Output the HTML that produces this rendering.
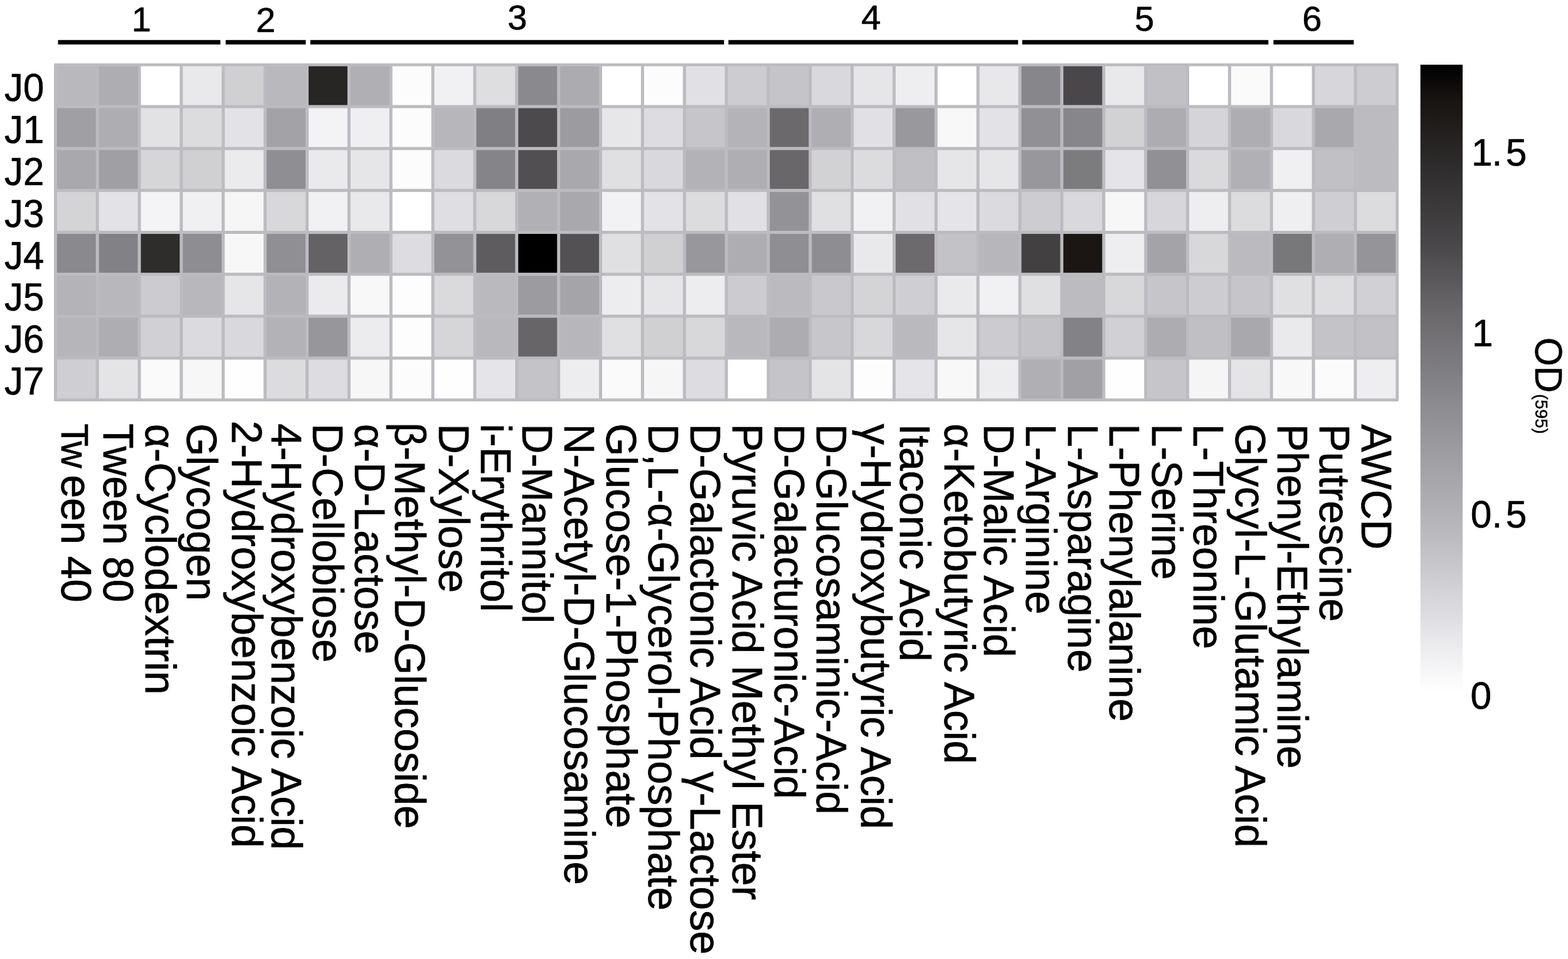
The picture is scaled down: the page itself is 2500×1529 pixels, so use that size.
<!DOCTYPE html>
<html lang="en">
<head>
<meta charset="utf-8">
<title>Heatmap OD(595)</title>
<style>
html,body{margin:0;padding:0;background:#fff;}
body{width:2500px;height:1529px;overflow:hidden;}
svg{display:block;}
text{font-family:'Liberation Sans', sans-serif;}
</style>
</head>
<body>
<svg width="2500" height="1529" viewBox="0 0 2500 1529" font-family="'Liberation Sans', sans-serif" font-size="62" fill="#000">
<defs><linearGradient id="cb" x1="0" y1="0" x2="0" y2="1"><stop offset="0.0000" stop-color="#000000"/><stop offset="0.0569" stop-color="#181412"/><stop offset="0.1628" stop-color="#2e2c2c"/><stop offset="0.2857" stop-color="#494749"/><stop offset="0.3916" stop-color="#69676a"/><stop offset="0.5145" stop-color="#858488"/><stop offset="0.5365" stop-color="#8b8a8e"/><stop offset="0.6763" stop-color="#aaa9ae"/><stop offset="0.7502" stop-color="#bbbabe"/><stop offset="0.8232" stop-color="#cfced2"/><stop offset="0.8971" stop-color="#e3e2e6"/><stop offset="0.9461" stop-color="#f1f1f3"/><stop offset="0.9830" stop-color="#fbfbfc"/><stop offset="1.0000" stop-color="#ffffff"/></linearGradient></defs>
<rect x="0" y="0" width="2500" height="1529" fill="#fff"/>
<g id="groups">
<rect x="92.50" y="63.8" width="258.90" height="7.10" fill="#000"/>
<rect x="359.80" y="63.8" width="127.70" height="7.10" fill="#000"/>
<rect x="494.80" y="63.8" width="659.60" height="7.10" fill="#000"/>
<rect x="1161.40" y="63.8" width="461.80" height="7.10" fill="#000"/>
<rect x="1629.80" y="63.8" width="392.50" height="7.10" fill="#000"/>
<rect x="2030.40" y="63.8" width="128.00" height="7.10" fill="#000"/>
<text transform="translate(209.72,50.00) scale(1.0000,1)" font-size="56.20" stroke="#000" stroke-width="0.56" stroke-linejoin="round">1</text>
<text transform="translate(408.01,51.40) scale(1.0000,1)" font-size="56.20" stroke="#000" stroke-width="0.56" stroke-linejoin="round">2</text>
<text transform="translate(809.25,47.34) scale(1.0000,1)" font-size="56.20" stroke="#000" stroke-width="0.56" stroke-linejoin="round">3</text>
<text transform="translate(1373.30,46.80) scale(1.0000,1)" font-size="56.20" stroke="#000" stroke-width="0.56" stroke-linejoin="round">4</text>
<text transform="translate(1808.96,49.04) scale(1.0000,1)" font-size="56.20" stroke="#000" stroke-width="0.56" stroke-linejoin="round">5</text>
<text transform="translate(2076.18,48.54) scale(1.0000,1)" font-size="56.20" stroke="#000" stroke-width="0.56" stroke-linejoin="round">6</text>
</g>
<g id="heatmap">
<rect x="86.0" y="101.0" width="2144.00" height="539.00" rx="2" fill="#bcbbc0"/>
<rect x="90.90" y="105.60" width="61.9" height="61.9" fill="#b9b8bc"/>
<rect x="157.75" y="105.60" width="61.9" height="61.9" fill="#aeadb1"/>
<rect x="224.61" y="105.60" width="61.9" height="61.9" fill="#ffffff"/>
<rect x="291.47" y="105.60" width="61.9" height="61.9" fill="#e9e8eb"/>
<rect x="358.32" y="105.60" width="61.9" height="61.9" fill="#d0cfd2"/>
<rect x="425.18" y="105.60" width="61.9" height="61.9" fill="#b9b8bc"/>
<rect x="492.03" y="105.60" width="61.9" height="61.9" fill="#272624"/>
<rect x="558.88" y="105.60" width="61.9" height="61.9" fill="#b0afb3"/>
<rect x="625.74" y="105.60" width="61.9" height="61.9" fill="#fcfcfc"/>
<rect x="692.60" y="105.60" width="61.9" height="61.9" fill="#f1f1f3"/>
<rect x="759.45" y="105.60" width="61.9" height="61.9" fill="#dedde0"/>
<rect x="826.31" y="105.60" width="61.9" height="61.9" fill="#8a898d"/>
<rect x="893.16" y="105.60" width="61.9" height="61.9" fill="#acabaf"/>
<rect x="960.01" y="105.60" width="61.9" height="61.9" fill="#ffffff"/>
<rect x="1026.87" y="105.60" width="61.9" height="61.9" fill="#fcfcfc"/>
<rect x="1093.73" y="105.60" width="61.9" height="61.9" fill="#e1e0e4"/>
<rect x="1160.58" y="105.60" width="61.9" height="61.9" fill="#cdccd0"/>
<rect x="1227.44" y="105.60" width="61.9" height="61.9" fill="#c5c4c8"/>
<rect x="1294.29" y="105.60" width="61.9" height="61.9" fill="#d9d8dc"/>
<rect x="1361.15" y="105.60" width="61.9" height="61.9" fill="#e6e5e8"/>
<rect x="1428.00" y="105.60" width="61.9" height="61.9" fill="#eeeef0"/>
<rect x="1494.86" y="105.60" width="61.9" height="61.9" fill="#ffffff"/>
<rect x="1561.71" y="105.60" width="61.9" height="61.9" fill="#e8e7ea"/>
<rect x="1628.57" y="105.60" width="61.9" height="61.9" fill="#87868a"/>
<rect x="1695.42" y="105.60" width="61.9" height="61.9" fill="#494749"/>
<rect x="1762.28" y="105.60" width="61.9" height="61.9" fill="#e9e8eb"/>
<rect x="1829.13" y="105.60" width="61.9" height="61.9" fill="#c1c0c4"/>
<rect x="1895.99" y="105.60" width="61.9" height="61.9" fill="#ffffff"/>
<rect x="1962.84" y="105.60" width="61.9" height="61.9" fill="#fafafb"/>
<rect x="2029.70" y="105.60" width="61.9" height="61.9" fill="#ffffff"/>
<rect x="2096.55" y="105.60" width="61.9" height="61.9" fill="#d7d6da"/>
<rect x="2163.41" y="105.60" width="61.9" height="61.9" fill="#cdccd0"/>
<rect x="90.90" y="172.43" width="61.9" height="61.9" fill="#a09fa3"/>
<rect x="157.75" y="172.43" width="61.9" height="61.9" fill="#aeadb1"/>
<rect x="224.61" y="172.43" width="61.9" height="61.9" fill="#e2e1e4"/>
<rect x="291.47" y="172.43" width="61.9" height="61.9" fill="#dcdbde"/>
<rect x="358.32" y="172.43" width="61.9" height="61.9" fill="#e3e2e6"/>
<rect x="425.18" y="172.43" width="61.9" height="61.9" fill="#a3a2a6"/>
<rect x="492.03" y="172.43" width="61.9" height="61.9" fill="#f3f3f5"/>
<rect x="558.88" y="172.43" width="61.9" height="61.9" fill="#efeff1"/>
<rect x="625.74" y="172.43" width="61.9" height="61.9" fill="#fcfcfc"/>
<rect x="692.60" y="172.43" width="61.9" height="61.9" fill="#b7b6ba"/>
<rect x="759.45" y="172.43" width="61.9" height="61.9" fill="#807f83"/>
<rect x="826.31" y="172.43" width="61.9" height="61.9" fill="#4c4a4c"/>
<rect x="893.16" y="172.43" width="61.9" height="61.9" fill="#9c9b9f"/>
<rect x="960.01" y="172.43" width="61.9" height="61.9" fill="#e7e6e9"/>
<rect x="1026.87" y="172.43" width="61.9" height="61.9" fill="#dddce0"/>
<rect x="1093.73" y="172.43" width="61.9" height="61.9" fill="#c6c5c9"/>
<rect x="1160.58" y="172.43" width="61.9" height="61.9" fill="#b4b3b7"/>
<rect x="1227.44" y="172.43" width="61.9" height="61.9" fill="#6b696c"/>
<rect x="1294.29" y="172.43" width="61.9" height="61.9" fill="#afaeb2"/>
<rect x="1361.15" y="172.43" width="61.9" height="61.9" fill="#e1e0e4"/>
<rect x="1428.00" y="172.43" width="61.9" height="61.9" fill="#99989c"/>
<rect x="1494.86" y="172.43" width="61.9" height="61.9" fill="#f8f8f9"/>
<rect x="1561.71" y="172.43" width="61.9" height="61.9" fill="#e3e2e6"/>
<rect x="1628.57" y="172.43" width="61.9" height="61.9" fill="#919094"/>
<rect x="1695.42" y="172.43" width="61.9" height="61.9" fill="#87868a"/>
<rect x="1762.28" y="172.43" width="61.9" height="61.9" fill="#d2d1d4"/>
<rect x="1829.13" y="172.43" width="61.9" height="61.9" fill="#adacb0"/>
<rect x="1895.99" y="172.43" width="61.9" height="61.9" fill="#d5d4d8"/>
<rect x="1962.84" y="172.43" width="61.9" height="61.9" fill="#aeadb1"/>
<rect x="2029.70" y="172.43" width="61.9" height="61.9" fill="#d9d8dc"/>
<rect x="2096.55" y="172.43" width="61.9" height="61.9" fill="#a9a8ac"/>
<rect x="2163.41" y="172.43" width="61.9" height="61.9" fill="#bcbbbf"/>
<rect x="90.90" y="239.26" width="61.9" height="61.9" fill="#a9a8ac"/>
<rect x="157.75" y="239.26" width="61.9" height="61.9" fill="#a09fa3"/>
<rect x="224.61" y="239.26" width="61.9" height="61.9" fill="#d6d5d8"/>
<rect x="291.47" y="239.26" width="61.9" height="61.9" fill="#d0cfd2"/>
<rect x="358.32" y="239.26" width="61.9" height="61.9" fill="#ebeaed"/>
<rect x="425.18" y="239.26" width="61.9" height="61.9" fill="#8f8e92"/>
<rect x="492.03" y="239.26" width="61.9" height="61.9" fill="#eae9ec"/>
<rect x="558.88" y="239.26" width="61.9" height="61.9" fill="#e6e5e8"/>
<rect x="625.74" y="239.26" width="61.9" height="61.9" fill="#fcfcfc"/>
<rect x="692.60" y="239.26" width="61.9" height="61.9" fill="#dbdade"/>
<rect x="759.45" y="239.26" width="61.9" height="61.9" fill="#858488"/>
<rect x="826.31" y="239.26" width="61.9" height="61.9" fill="#514f51"/>
<rect x="893.16" y="239.26" width="61.9" height="61.9" fill="#a9a8ac"/>
<rect x="960.01" y="239.26" width="61.9" height="61.9" fill="#e0dfe2"/>
<rect x="1026.87" y="239.26" width="61.9" height="61.9" fill="#d9d8dc"/>
<rect x="1093.73" y="239.26" width="61.9" height="61.9" fill="#b3b2b6"/>
<rect x="1160.58" y="239.26" width="61.9" height="61.9" fill="#afaeb2"/>
<rect x="1227.44" y="239.26" width="61.9" height="61.9" fill="#69676a"/>
<rect x="1294.29" y="239.26" width="61.9" height="61.9" fill="#d2d1d4"/>
<rect x="1361.15" y="239.26" width="61.9" height="61.9" fill="#dcdbde"/>
<rect x="1428.00" y="239.26" width="61.9" height="61.9" fill="#c0bfc3"/>
<rect x="1494.86" y="239.26" width="61.9" height="61.9" fill="#e6e5e8"/>
<rect x="1561.71" y="239.26" width="61.9" height="61.9" fill="#e6e5e8"/>
<rect x="1628.57" y="239.26" width="61.9" height="61.9" fill="#98979b"/>
<rect x="1695.42" y="239.26" width="61.9" height="61.9" fill="#7c7b7e"/>
<rect x="1762.28" y="239.26" width="61.9" height="61.9" fill="#e5e4e8"/>
<rect x="1829.13" y="239.26" width="61.9" height="61.9" fill="#919094"/>
<rect x="1895.99" y="239.26" width="61.9" height="61.9" fill="#dad9dc"/>
<rect x="1962.84" y="239.26" width="61.9" height="61.9" fill="#b1b0b4"/>
<rect x="2029.70" y="239.26" width="61.9" height="61.9" fill="#f0f0f2"/>
<rect x="2096.55" y="239.26" width="61.9" height="61.9" fill="#c1c0c4"/>
<rect x="2163.41" y="239.26" width="61.9" height="61.9" fill="#bcbbbf"/>
<rect x="90.90" y="306.09" width="61.9" height="61.9" fill="#d4d3d6"/>
<rect x="157.75" y="306.09" width="61.9" height="61.9" fill="#e3e2e6"/>
<rect x="224.61" y="306.09" width="61.9" height="61.9" fill="#f4f4f6"/>
<rect x="291.47" y="306.09" width="61.9" height="61.9" fill="#f0f0f2"/>
<rect x="358.32" y="306.09" width="61.9" height="61.9" fill="#f6f6f7"/>
<rect x="425.18" y="306.09" width="61.9" height="61.9" fill="#d8d7da"/>
<rect x="492.03" y="306.09" width="61.9" height="61.9" fill="#f1f1f3"/>
<rect x="558.88" y="306.09" width="61.9" height="61.9" fill="#e9e8eb"/>
<rect x="625.74" y="306.09" width="61.9" height="61.9" fill="#ffffff"/>
<rect x="692.60" y="306.09" width="61.9" height="61.9" fill="#dfdee2"/>
<rect x="759.45" y="306.09" width="61.9" height="61.9" fill="#d8d7da"/>
<rect x="826.31" y="306.09" width="61.9" height="61.9" fill="#b1b0b4"/>
<rect x="893.16" y="306.09" width="61.9" height="61.9" fill="#a9a8ac"/>
<rect x="960.01" y="306.09" width="61.9" height="61.9" fill="#f2f2f4"/>
<rect x="1026.87" y="306.09" width="61.9" height="61.9" fill="#e3e2e6"/>
<rect x="1093.73" y="306.09" width="61.9" height="61.9" fill="#dcdbde"/>
<rect x="1160.58" y="306.09" width="61.9" height="61.9" fill="#e1e0e4"/>
<rect x="1227.44" y="306.09" width="61.9" height="61.9" fill="#939296"/>
<rect x="1294.29" y="306.09" width="61.9" height="61.9" fill="#e0dfe2"/>
<rect x="1361.15" y="306.09" width="61.9" height="61.9" fill="#f1f1f3"/>
<rect x="1428.00" y="306.09" width="61.9" height="61.9" fill="#e1e0e4"/>
<rect x="1494.86" y="306.09" width="61.9" height="61.9" fill="#e5e4e8"/>
<rect x="1561.71" y="306.09" width="61.9" height="61.9" fill="#dbdade"/>
<rect x="1628.57" y="306.09" width="61.9" height="61.9" fill="#cdccd0"/>
<rect x="1695.42" y="306.09" width="61.9" height="61.9" fill="#d9d8dc"/>
<rect x="1762.28" y="306.09" width="61.9" height="61.9" fill="#f7f7f8"/>
<rect x="1829.13" y="306.09" width="61.9" height="61.9" fill="#d7d6da"/>
<rect x="1895.99" y="306.09" width="61.9" height="61.9" fill="#eeeef0"/>
<rect x="1962.84" y="306.09" width="61.9" height="61.9" fill="#dcdbde"/>
<rect x="2029.70" y="306.09" width="61.9" height="61.9" fill="#efeff1"/>
<rect x="2096.55" y="306.09" width="61.9" height="61.9" fill="#cfced2"/>
<rect x="2163.41" y="306.09" width="61.9" height="61.9" fill="#dcdbde"/>
<rect x="90.90" y="372.92" width="61.9" height="61.9" fill="#8a898d"/>
<rect x="157.75" y="372.92" width="61.9" height="61.9" fill="#828185"/>
<rect x="224.61" y="372.92" width="61.9" height="61.9" fill="#2e2d2b"/>
<rect x="291.47" y="372.92" width="61.9" height="61.9" fill="#8e8d91"/>
<rect x="358.32" y="372.92" width="61.9" height="61.9" fill="#f7f7f8"/>
<rect x="425.18" y="372.92" width="61.9" height="61.9" fill="#908f93"/>
<rect x="492.03" y="372.92" width="61.9" height="61.9" fill="#646265"/>
<rect x="558.88" y="372.92" width="61.9" height="61.9" fill="#afaeb2"/>
<rect x="625.74" y="372.92" width="61.9" height="61.9" fill="#dddce0"/>
<rect x="692.60" y="372.92" width="61.9" height="61.9" fill="#939296"/>
<rect x="759.45" y="372.92" width="61.9" height="61.9" fill="#5e5c5f"/>
<rect x="826.31" y="372.92" width="61.9" height="61.9" fill="#000000"/>
<rect x="893.16" y="372.92" width="61.9" height="61.9" fill="#535153"/>
<rect x="960.01" y="372.92" width="61.9" height="61.9" fill="#e0dfe2"/>
<rect x="1026.87" y="372.92" width="61.9" height="61.9" fill="#d0cfd2"/>
<rect x="1093.73" y="372.92" width="61.9" height="61.9" fill="#98979b"/>
<rect x="1160.58" y="372.92" width="61.9" height="61.9" fill="#aeadb1"/>
<rect x="1227.44" y="372.92" width="61.9" height="61.9" fill="#8f8e92"/>
<rect x="1294.29" y="372.92" width="61.9" height="61.9" fill="#8e8d91"/>
<rect x="1361.15" y="372.92" width="61.9" height="61.9" fill="#e9e8eb"/>
<rect x="1428.00" y="372.92" width="61.9" height="61.9" fill="#6c6a6d"/>
<rect x="1494.86" y="372.92" width="61.9" height="61.9" fill="#c3c2c6"/>
<rect x="1561.71" y="372.92" width="61.9" height="61.9" fill="#b7b6ba"/>
<rect x="1628.57" y="372.92" width="61.9" height="61.9" fill="#424041"/>
<rect x="1695.42" y="372.92" width="61.9" height="61.9" fill="#1b1613"/>
<rect x="1762.28" y="372.92" width="61.9" height="61.9" fill="#eeeef0"/>
<rect x="1829.13" y="372.92" width="61.9" height="61.9" fill="#a4a3a7"/>
<rect x="1895.99" y="372.92" width="61.9" height="61.9" fill="#d8d7da"/>
<rect x="1962.84" y="372.92" width="61.9" height="61.9" fill="#bbbabe"/>
<rect x="2029.70" y="372.92" width="61.9" height="61.9" fill="#78777a"/>
<rect x="2096.55" y="372.92" width="61.9" height="61.9" fill="#afaeb2"/>
<rect x="2163.41" y="372.92" width="61.9" height="61.9" fill="#959498"/>
<rect x="90.90" y="439.75" width="61.9" height="61.9" fill="#b4b3b7"/>
<rect x="157.75" y="439.75" width="61.9" height="61.9" fill="#b8b7bb"/>
<rect x="224.61" y="439.75" width="61.9" height="61.9" fill="#cccbcf"/>
<rect x="291.47" y="439.75" width="61.9" height="61.9" fill="#b8b7bb"/>
<rect x="358.32" y="439.75" width="61.9" height="61.9" fill="#e6e5e8"/>
<rect x="425.18" y="439.75" width="61.9" height="61.9" fill="#b3b2b6"/>
<rect x="492.03" y="439.75" width="61.9" height="61.9" fill="#ebeaed"/>
<rect x="558.88" y="439.75" width="61.9" height="61.9" fill="#f8f8f9"/>
<rect x="625.74" y="439.75" width="61.9" height="61.9" fill="#fdfdfd"/>
<rect x="692.60" y="439.75" width="61.9" height="61.9" fill="#dad9dc"/>
<rect x="759.45" y="439.75" width="61.9" height="61.9" fill="#bab9bd"/>
<rect x="826.31" y="439.75" width="61.9" height="61.9" fill="#9c9b9f"/>
<rect x="893.16" y="439.75" width="61.9" height="61.9" fill="#a5a4a8"/>
<rect x="960.01" y="439.75" width="61.9" height="61.9" fill="#edecef"/>
<rect x="1026.87" y="439.75" width="61.9" height="61.9" fill="#e6e5e8"/>
<rect x="1093.73" y="439.75" width="61.9" height="61.9" fill="#edecef"/>
<rect x="1160.58" y="439.75" width="61.9" height="61.9" fill="#cccbcf"/>
<rect x="1227.44" y="439.75" width="61.9" height="61.9" fill="#bbbabe"/>
<rect x="1294.29" y="439.75" width="61.9" height="61.9" fill="#c9c8cc"/>
<rect x="1361.15" y="439.75" width="61.9" height="61.9" fill="#d4d3d6"/>
<rect x="1428.00" y="439.75" width="61.9" height="61.9" fill="#cfced2"/>
<rect x="1494.86" y="439.75" width="61.9" height="61.9" fill="#eae9ec"/>
<rect x="1561.71" y="439.75" width="61.9" height="61.9" fill="#f1f1f3"/>
<rect x="1628.57" y="439.75" width="61.9" height="61.9" fill="#e0dfe2"/>
<rect x="1695.42" y="439.75" width="61.9" height="61.9" fill="#bcbbbf"/>
<rect x="1762.28" y="439.75" width="61.9" height="61.9" fill="#d8d7da"/>
<rect x="1829.13" y="439.75" width="61.9" height="61.9" fill="#c6c5c9"/>
<rect x="1895.99" y="439.75" width="61.9" height="61.9" fill="#cdccd0"/>
<rect x="1962.84" y="439.75" width="61.9" height="61.9" fill="#c6c5c9"/>
<rect x="2029.70" y="439.75" width="61.9" height="61.9" fill="#e0dfe2"/>
<rect x="2096.55" y="439.75" width="61.9" height="61.9" fill="#dedde0"/>
<rect x="2163.41" y="439.75" width="61.9" height="61.9" fill="#d1d0d4"/>
<rect x="90.90" y="506.58" width="61.9" height="61.9" fill="#b6b5b9"/>
<rect x="157.75" y="506.58" width="61.9" height="61.9" fill="#aeadb1"/>
<rect x="224.61" y="506.58" width="61.9" height="61.9" fill="#d1d0d4"/>
<rect x="291.47" y="506.58" width="61.9" height="61.9" fill="#dbdade"/>
<rect x="358.32" y="506.58" width="61.9" height="61.9" fill="#d9d8dc"/>
<rect x="425.18" y="506.58" width="61.9" height="61.9" fill="#b3b2b6"/>
<rect x="492.03" y="506.58" width="61.9" height="61.9" fill="#97969a"/>
<rect x="558.88" y="506.58" width="61.9" height="61.9" fill="#ecebee"/>
<rect x="625.74" y="506.58" width="61.9" height="61.9" fill="#fdfdfd"/>
<rect x="692.60" y="506.58" width="61.9" height="61.9" fill="#d6d5d8"/>
<rect x="759.45" y="506.58" width="61.9" height="61.9" fill="#b9b8bc"/>
<rect x="826.31" y="506.58" width="61.9" height="61.9" fill="#676568"/>
<rect x="893.16" y="506.58" width="61.9" height="61.9" fill="#b7b6ba"/>
<rect x="960.01" y="506.58" width="61.9" height="61.9" fill="#e0dfe2"/>
<rect x="1026.87" y="506.58" width="61.9" height="61.9" fill="#d0cfd2"/>
<rect x="1093.73" y="506.58" width="61.9" height="61.9" fill="#d8d7da"/>
<rect x="1160.58" y="506.58" width="61.9" height="61.9" fill="#b9b8bc"/>
<rect x="1227.44" y="506.58" width="61.9" height="61.9" fill="#adacb0"/>
<rect x="1294.29" y="506.58" width="61.9" height="61.9" fill="#c7c6ca"/>
<rect x="1361.15" y="506.58" width="61.9" height="61.9" fill="#d8d7da"/>
<rect x="1428.00" y="506.58" width="61.9" height="61.9" fill="#bab9bd"/>
<rect x="1494.86" y="506.58" width="61.9" height="61.9" fill="#e6e5e8"/>
<rect x="1561.71" y="506.58" width="61.9" height="61.9" fill="#cccbcf"/>
<rect x="1628.57" y="506.58" width="61.9" height="61.9" fill="#c4c3c7"/>
<rect x="1695.42" y="506.58" width="61.9" height="61.9" fill="#838286"/>
<rect x="1762.28" y="506.58" width="61.9" height="61.9" fill="#d1d0d4"/>
<rect x="1829.13" y="506.58" width="61.9" height="61.9" fill="#adacb0"/>
<rect x="1895.99" y="506.58" width="61.9" height="61.9" fill="#c0bfc3"/>
<rect x="1962.84" y="506.58" width="61.9" height="61.9" fill="#a9a8ac"/>
<rect x="2029.70" y="506.58" width="61.9" height="61.9" fill="#eae9ec"/>
<rect x="2096.55" y="506.58" width="61.9" height="61.9" fill="#c4c3c7"/>
<rect x="2163.41" y="506.58" width="61.9" height="61.9" fill="#c2c1c5"/>
<rect x="90.90" y="573.41" width="61.9" height="61.9" fill="#cfced2"/>
<rect x="157.75" y="573.41" width="61.9" height="61.9" fill="#e4e3e6"/>
<rect x="224.61" y="573.41" width="61.9" height="61.9" fill="#fafafb"/>
<rect x="291.47" y="573.41" width="61.9" height="61.9" fill="#f7f7f8"/>
<rect x="358.32" y="573.41" width="61.9" height="61.9" fill="#fefefe"/>
<rect x="425.18" y="573.41" width="61.9" height="61.9" fill="#dcdbde"/>
<rect x="492.03" y="573.41" width="61.9" height="61.9" fill="#dddce0"/>
<rect x="558.88" y="573.41" width="61.9" height="61.9" fill="#f7f7f8"/>
<rect x="625.74" y="573.41" width="61.9" height="61.9" fill="#fcfcfc"/>
<rect x="692.60" y="573.41" width="61.9" height="61.9" fill="#fefefe"/>
<rect x="759.45" y="573.41" width="61.9" height="61.9" fill="#e5e4e8"/>
<rect x="826.31" y="573.41" width="61.9" height="61.9" fill="#c4c3c7"/>
<rect x="893.16" y="573.41" width="61.9" height="61.9" fill="#edecef"/>
<rect x="960.01" y="573.41" width="61.9" height="61.9" fill="#fafafb"/>
<rect x="1026.87" y="573.41" width="61.9" height="61.9" fill="#f6f6f7"/>
<rect x="1093.73" y="573.41" width="61.9" height="61.9" fill="#dddce0"/>
<rect x="1160.58" y="573.41" width="61.9" height="61.9" fill="#ffffff"/>
<rect x="1227.44" y="573.41" width="61.9" height="61.9" fill="#c5c4c8"/>
<rect x="1294.29" y="573.41" width="61.9" height="61.9" fill="#e4e3e6"/>
<rect x="1361.15" y="573.41" width="61.9" height="61.9" fill="#fdfdfd"/>
<rect x="1428.00" y="573.41" width="61.9" height="61.9" fill="#e5e4e8"/>
<rect x="1494.86" y="573.41" width="61.9" height="61.9" fill="#f8f8f9"/>
<rect x="1561.71" y="573.41" width="61.9" height="61.9" fill="#edecef"/>
<rect x="1628.57" y="573.41" width="61.9" height="61.9" fill="#b0afb3"/>
<rect x="1695.42" y="573.41" width="61.9" height="61.9" fill="#a1a0a4"/>
<rect x="1762.28" y="573.41" width="61.9" height="61.9" fill="#fefefe"/>
<rect x="1829.13" y="573.41" width="61.9" height="61.9" fill="#c6c5c9"/>
<rect x="1895.99" y="573.41" width="61.9" height="61.9" fill="#f5f5f6"/>
<rect x="1962.84" y="573.41" width="61.9" height="61.9" fill="#e4e3e6"/>
<rect x="2029.70" y="573.41" width="61.9" height="61.9" fill="#f8f8f9"/>
<rect x="2096.55" y="573.41" width="61.9" height="61.9" fill="#fbfbfc"/>
<rect x="2163.41" y="573.41" width="61.9" height="61.9" fill="#eeeef0"/>
</g>
<g id="rowlabels">
<text transform="translate(7.10,161.23) scale(0.9615,1)" font-size="62.30" stroke="#000" stroke-width="0.62" stroke-linejoin="round">J0</text>
<text transform="translate(7.10,228.06) scale(0.9615,1)" font-size="62.30" stroke="#000" stroke-width="0.62" stroke-linejoin="round">J1</text>
<text transform="translate(7.10,294.89) scale(0.9615,1)" font-size="62.30" stroke="#000" stroke-width="0.62" stroke-linejoin="round">J2</text>
<text transform="translate(7.10,361.72) scale(0.9615,1)" font-size="62.30" stroke="#000" stroke-width="0.62" stroke-linejoin="round">J3</text>
<text transform="translate(7.10,428.55) scale(0.9615,1)" font-size="62.30" stroke="#000" stroke-width="0.62" stroke-linejoin="round">J4</text>
<text transform="translate(7.10,495.38) scale(0.9615,1)" font-size="62.30" stroke="#000" stroke-width="0.62" stroke-linejoin="round">J5</text>
<text transform="translate(7.10,562.21) scale(0.9615,1)" font-size="62.30" stroke="#000" stroke-width="0.62" stroke-linejoin="round">J6</text>
<text transform="translate(7.10,629.04) scale(0.9615,1)" font-size="62.30" stroke="#000" stroke-width="0.62" stroke-linejoin="round">J7</text>
</g>
<g id="collabels">
<text transform="translate(98.24,0) rotate(90) scale(0.9776,1)" font-size="68.00" stroke="#000" stroke-width="0.68" stroke-linejoin="round"><tspan x="690.89" font-size="60.86" letter-spacing="-5.08">Tw</tspan><tspan x="774.49">een 40</tspan></text>
<text transform="translate(165.24,675.29) rotate(90) scale(0.9665,1.0000)" font-size="68.00" stroke="#000" stroke-width="0.68" stroke-linejoin="round">Tween 80</text>
<text transform="translate(231.64,675.91) rotate(90) scale(0.9898,1.0000)" font-size="68.00" stroke="#000" stroke-width="0.68" stroke-linejoin="round">α-Cyclodextrin</text>
<text transform="translate(298.34,675.25) rotate(90) scale(0.9843,1.0000)" font-size="68.00" stroke="#000" stroke-width="0.68" stroke-linejoin="round">Glycogen</text>
<text transform="translate(369.74,670.75) rotate(90) scale(0.9848,1.0000)" font-size="68.00" stroke="#000" stroke-width="0.68" stroke-linejoin="round">2-Hydroxybenzoic Acid</text>
<text transform="translate(432.74,675.26) rotate(90) scale(0.9829,1.0000)" font-size="68.00" stroke="#000" stroke-width="0.68" stroke-linejoin="round">4-Hydroxybenzoic Acid</text>
<text transform="translate(498.74,675.27) rotate(90) scale(0.9793,1.0000)" font-size="68.00" stroke="#000" stroke-width="0.68" stroke-linejoin="round">D-Cellobiose</text>
<text transform="translate(565.74,675.91) rotate(90) scale(0.9874,1.0000)" font-size="68.00" stroke="#000" stroke-width="0.68" stroke-linejoin="round">α-D-Lactose</text>
<text transform="translate(630.34,673.59) rotate(90) scale(0.9834,1.0000)" font-size="68.00" stroke="#000" stroke-width="0.68" stroke-linejoin="round">β-Methyl-D-Glucoside</text>
<text transform="translate(700.34,675.68) rotate(90) scale(0.9775,1.0000)" font-size="68.00" stroke="#000" stroke-width="0.68" stroke-linejoin="round">D-Xylose</text>
<text transform="translate(766.74,675.60) rotate(90) scale(0.9801,1.0000)" font-size="68.00" stroke="#000" stroke-width="0.68" stroke-linejoin="round">i-Erythritol</text>
<text transform="translate(833.44,675.73) rotate(90) scale(0.9689,1.0000)" font-size="68.00" stroke="#000" stroke-width="0.68" stroke-linejoin="round">D-Mannitol</text>
<text transform="translate(900.34,675.65) rotate(90) scale(0.9829,1.0000)" font-size="68.00" stroke="#000" stroke-width="0.68" stroke-linejoin="round">N-Acetyl-D-Glucosamine</text>
<text transform="translate(966.84,675.26) rotate(90) scale(0.9815,1.0000)" font-size="68.00" stroke="#000" stroke-width="0.68" stroke-linejoin="round">Glucose-1-Phosphate</text>
<text transform="translate(1033.84,675.64) rotate(90) scale(0.9853,1.0000)" font-size="68.00" stroke="#000" stroke-width="0.68" stroke-linejoin="round">D,L-α-Glycerol-Phosphate</text>
<text transform="translate(1100.84,675.61) rotate(90) scale(0.9912,1.0000)" font-size="68.00" stroke="#000" stroke-width="0.68" stroke-linejoin="round">D-Galactonic Acid γ-Lactose</text>
<text transform="translate(1167.84,675.62) rotate(90) scale(0.9899,1.0000)" font-size="68.00" stroke="#000" stroke-width="0.68" stroke-linejoin="round">Pyruvic Acid Methyl Ester</text>
<text transform="translate(1234.94,675.65) rotate(90) scale(0.9833,1.0000)" font-size="68.00" stroke="#000" stroke-width="0.68" stroke-linejoin="round">D-Galacturonic-Acid</text>
<text transform="translate(1301.94,675.66) rotate(90) scale(0.9816,1.0000)" font-size="68.00" stroke="#000" stroke-width="0.68" stroke-linejoin="round">D-Glucosaminic-Acid</text>
<text transform="translate(1372.64,675.50) rotate(90) scale(0.9889,1.0000)" font-size="68.00" stroke="#000" stroke-width="0.68" stroke-linejoin="round">γ-Hydroxybutyric Acid</text>
<text transform="translate(1434.94,675.52) rotate(90) scale(0.9933,1.0000)" font-size="68.00" stroke="#000" stroke-width="0.68" stroke-linejoin="round">Itaconic Acid</text>
<text transform="translate(1506.04,675.51) rotate(90) scale(0.9874,1.0000)" font-size="68.00" stroke="#000" stroke-width="0.68" stroke-linejoin="round">α-Ketobutyric Acid</text>
<text transform="translate(1569.04,675.64) rotate(90) scale(0.9849,1.0000)" font-size="68.00" stroke="#000" stroke-width="0.68" stroke-linejoin="round">D-Malic Acid</text>
<text transform="translate(1636.04,675.66) rotate(90) scale(0.9807,1.0000)" font-size="68.00" stroke="#000" stroke-width="0.68" stroke-linejoin="round">L-Arginine</text>
<text transform="translate(1702.64,675.66) rotate(90) scale(0.9807,1.0000)" font-size="68.00" stroke="#000" stroke-width="0.68" stroke-linejoin="round">L-Asparagine</text>
<text transform="translate(1769.44,675.70) rotate(90) scale(0.9737,1.0000)" font-size="68.00" stroke="#000" stroke-width="0.68" stroke-linejoin="round">L-Phenylalanine</text>
<text transform="translate(1836.64,675.74) rotate(90) scale(0.9675,1.0000)" font-size="68.00" stroke="#000" stroke-width="0.68" stroke-linejoin="round">L-Serine</text>
<text transform="translate(1903.44,675.67) rotate(90) scale(0.9806,1.0000)" font-size="68.00" stroke="#000" stroke-width="0.68" stroke-linejoin="round">L-Threonine</text>
<text transform="translate(1970.14,675.24) rotate(90) scale(0.9891,1.0000)" font-size="68.00" stroke="#000" stroke-width="0.68" stroke-linejoin="round">Glycyl-L-Glutamic Acid</text>
<text transform="translate(2036.54,676.33) rotate(90) scale(0.9691,1.0000)" font-size="68.00" stroke="#000" stroke-width="0.68" stroke-linejoin="round">Phenyl-Ethylamine</text>
<text transform="translate(2103.74,676.26) rotate(90) scale(0.9811,1.0000)" font-size="68.00" stroke="#000" stroke-width="0.68" stroke-linejoin="round">Putrescine</text>
<text transform="translate(2170.54,676.60) rotate(90) scale(0.9725,1.0000)" font-size="68.00" stroke="#000" stroke-width="0.68" stroke-linejoin="round">AWCD</text>
</g>
<g id="colorbar">
<rect x="2264.7" y="103.2" width="67.30" height="1001.00" fill="url(#cb)"/>
<text x="2345.92 2378.41 2400.66" y="263.70" font-size="60.40" stroke="#000" stroke-width="0.60" stroke-linejoin="round">1.5</text>
<text x="2347.07" y="552.20" font-size="60.40" stroke="#000" stroke-width="0.60" stroke-linejoin="round">1</text>
<text x="2344.70 2378.41 2400.66" y="841.00" font-size="60.40" stroke="#000" stroke-width="0.60" stroke-linejoin="round">0.5</text>
<text x="2344.50" y="1130.30" font-size="60.40" stroke="#000" stroke-width="0.60" stroke-linejoin="round">0</text>
<text transform="translate(2448.21,0) rotate(90) scale(0.9608,1)" font-size="61.20" stroke="#000" stroke-width="0.61" stroke-linejoin="round"><tspan x="559.98">OD</tspan><tspan x="653.88" font-size="28.32" stroke-width="0.45">(595)</tspan></text>
</g>
</svg>
</body>
</html>
